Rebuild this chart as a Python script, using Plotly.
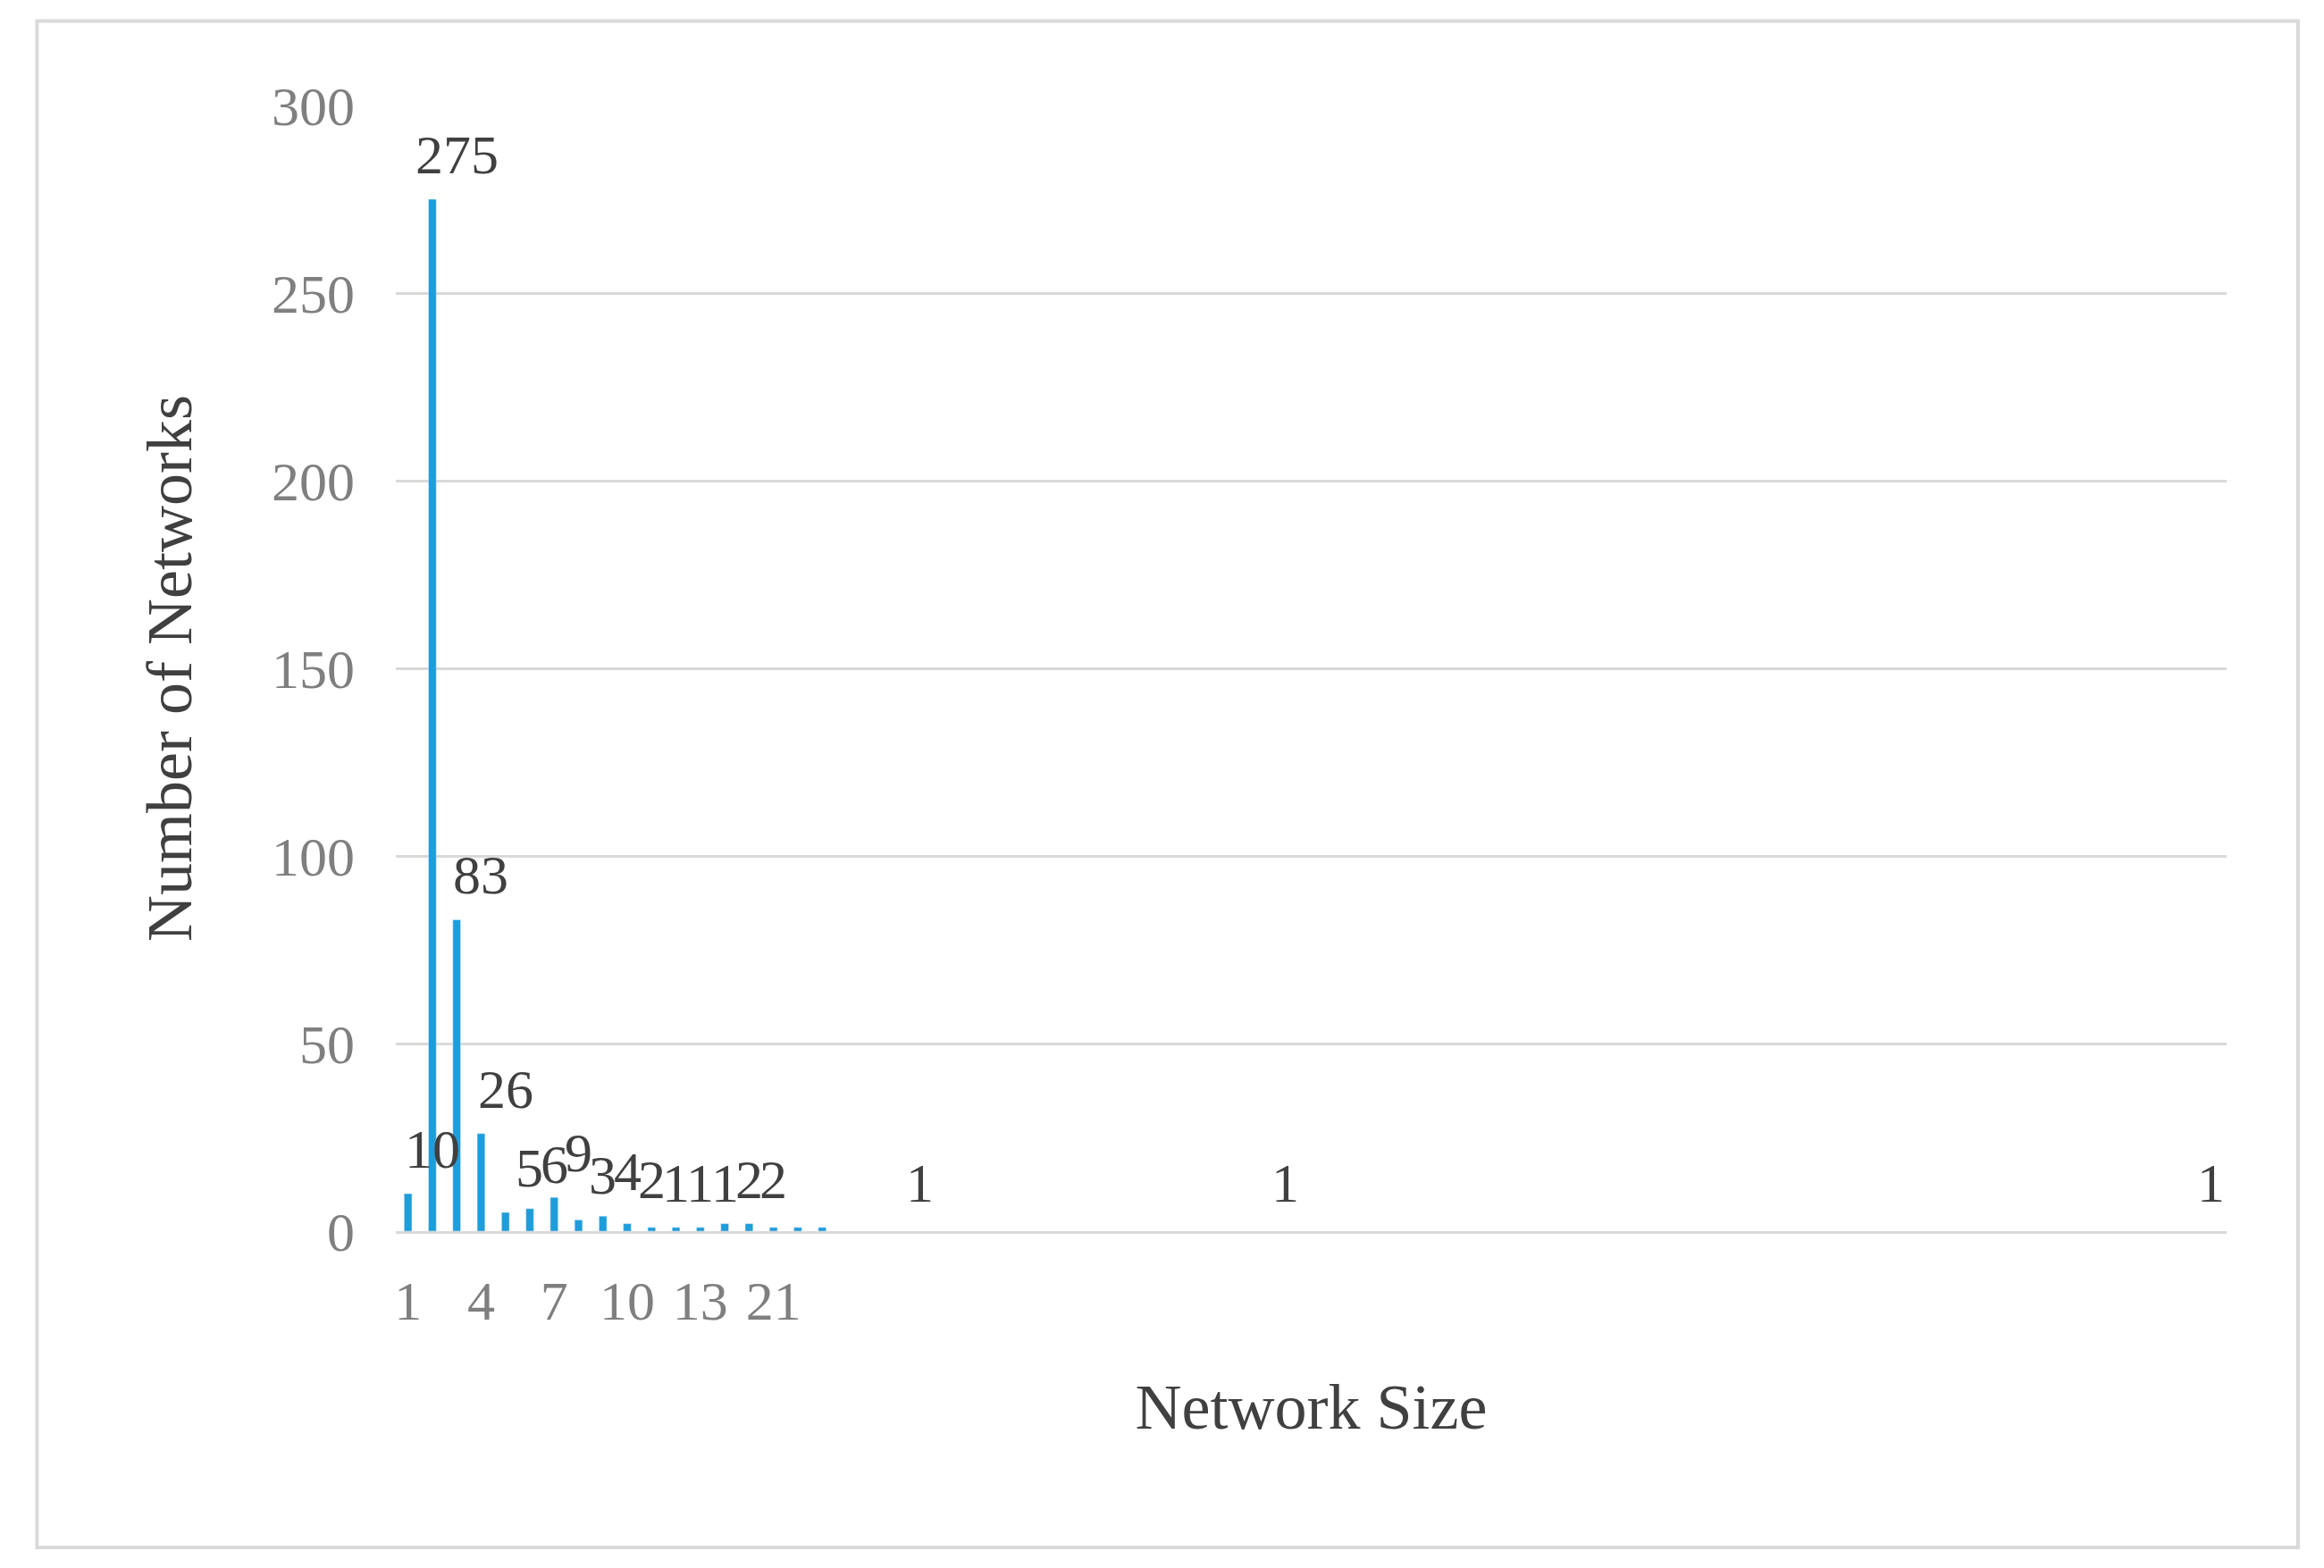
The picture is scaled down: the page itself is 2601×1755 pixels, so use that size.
import plotly.graph_objects as go

sizes = ["1","2","3","4","5","6","7","8","9","10","11","12","13","14","15","21","36","74"]
counts = [10,275,83,26,5,6,9,3,4,2,1,1,1,2,2,1,1,1]

fig = go.Figure(go.Bar(x=sizes, y=counts, marker_color="#1f9ddb", width=0.32))
for s, c in zip(sizes, counts):
    fig.add_annotation(x=s, y=c, text=str(c), showarrow=False, yanchor="bottom", yshift=14,
                       font=dict(family="Liberation Serif", size=62, color="#404040"))
fig.update_layout(
    width=2601, height=1755, paper_bgcolor="white", plot_bgcolor="white",
    margin=dict(l=435, r=117, t=110, b=385), showlegend=False,
    font=dict(family="Liberation Serif"),
    shapes=[dict(type="rect", xref="paper", yref="paper", x0=-0.196, x1=1.039, y0=-0.281, y1=1.075,
                 line=dict(color="#d9d9d9", width=4))],
)
fig.update_xaxes(type="category", tickfont=dict(size=62, color="#7f7f7f"), ticks="",
                 ticklabelstandoff=22,
                 title=dict(text="Network Size", font=dict(size=72, color="#404040"), standoff=60),
                 showline=True, linecolor="#d9d9d9", linewidth=3)
fig.update_yaxes(range=[0,300], dtick=50, tickfont=dict(size=62, color="#7f7f7f"),
                 showgrid=True, gridcolor="#d9d9d9", gridwidth=3, zeroline=False,
                 ticklabelstandoff=45,
                 title=dict(text="Number of Networks", font=dict(size=72, color="#404040"), standoff=65))
fig.write_html("out.html")
